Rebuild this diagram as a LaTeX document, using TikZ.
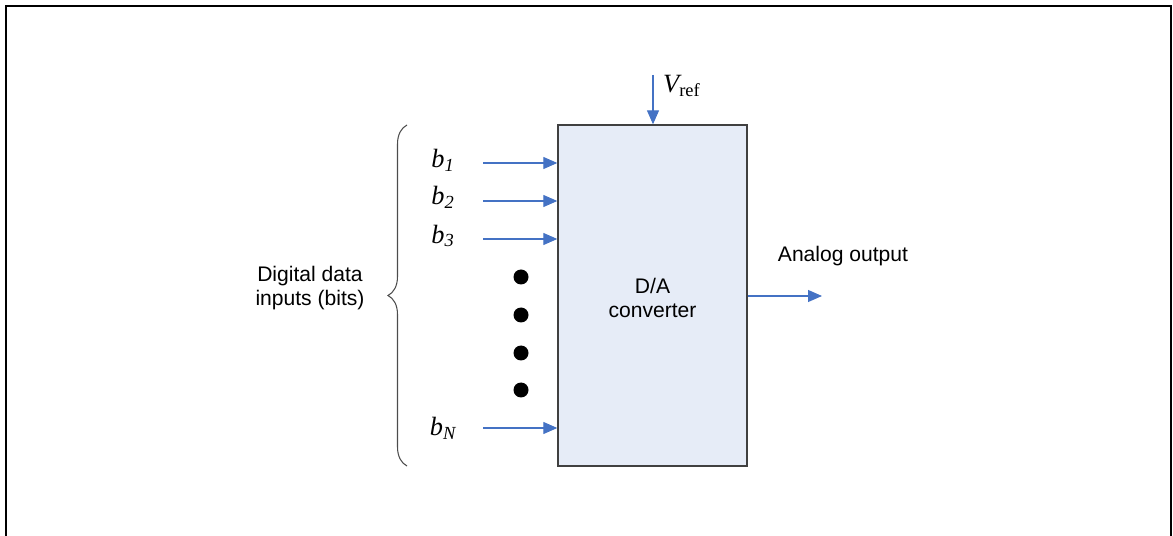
\documentclass[tikz,border=0pt]{standalone}
\usepackage{fontspec}
\setmainfont{Liberation Serif}
\newfontfamily\arialfont{Liberation Sans}
\usetikzlibrary{arrows.meta,decorations.pathreplacing}
\definecolor{flecha}{HTML}{4472C4}
\definecolor{caja}{HTML}{E6ECF7}

\begin{document}
\begin{tikzpicture}[x=0.02cm,y=-0.02cm,
    senal/.style={flecha,line width=0.6pt,-{Triangle[length=0.28cm,width=0.24cm]}},
    rotulo/.style={font=\arialfont\fontsize{12}{14}\selectfont,align=center},
    bit/.style={font=\fontsize{15}{17}\selectfont\itshape}]
    \useasboundingbox (0,0) rectangle (1173,536);
    % marco exterior, sin borde inferior
    \draw[line width=1.1pt] (6,536) -- (6,6) -- (1171,6) -- (1171,536);
    % convertidor
    \node[draw=black!75,line width=0.8pt,fill=caja,minimum width=3.78cm,
      minimum height=6.82cm,inner sep=0pt] (dac) at (652.5,295.5) {};
    \node[rotulo] (dactxt) at (652.5,298) {D/A\\converter};
    % tension de referencia
    \coordinate (vin) at (653,75);
    \draw[senal] (vin) -- (vin |- dac.north);
    \node[bit,anchor=west] (vref) at (657,86) {V\textsubscript{\upshape ref}};
    % entradas digitales
    \coordinate (in1) at (483,163);
    \coordinate (in2) at (483,201);
    \coordinate (in3) at (483,239);
    \coordinate (inN) at (483,428);
    \foreach \c in {in1,in2,in3,inN}
      \draw[senal] (\c) -- (\c -| dac.west);
    \node[bit] (b1) at (443,160) {b\textsubscript{1}};
    \node[bit] (b2) at (443,197) {b\textsubscript{2}};
    \node[bit] (b3) at (443,236) {b\textsubscript{3}};
    \node[bit] (bN) at (443,428) {b\textsubscript{N}};
    % puntos suspensivos
    \foreach \y in {277,315,353,390}
      \fill (521,\y) circle (0.15cm);
    % llave y texto de las entradas
    \draw[black!70,line width=0.6pt,decorate,
      decoration={brace,amplitude=0.38cm}] (407,466) -- (407,125)
      coordinate[midway] (llave);
    \node[rotulo] (dig) at (310,288) {Digital data\\inputs (bits)};
    % salida analogica
    \coordinate (out) at (822,296);
    \draw[senal] (dac.east |- out) -- (out);
    \node[rotulo] (ana) at (843,256) {Analog output};
  \end{tikzpicture}
\end{document}
